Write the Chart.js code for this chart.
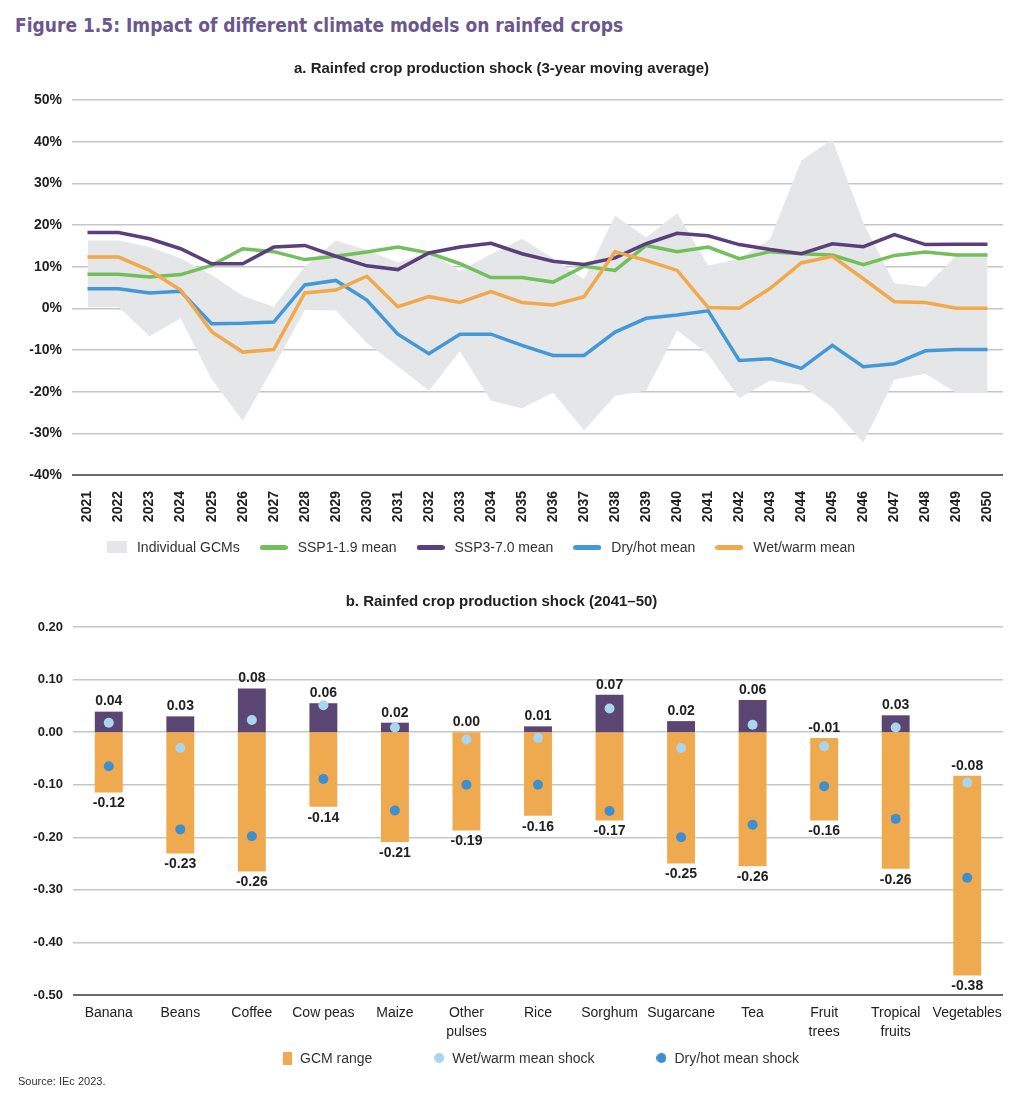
<!DOCTYPE html>
<html>
<head>
<meta charset="utf-8">
<script src="https://cdn.jsdelivr.net/npm/chart.js@4.4.0/dist/chart.umd.min.js"></script>
<style>
  body { margin: 0; background: #fff; width: 1024px; height: 1110px; position: relative; overflow: hidden; font-family: 'Liberation Sans', Arial, sans-serif; }
  #figTitle { position: absolute; left: 15px; top: 14px; font: bold 19px 'Liberation Sans Narrow', 'DejaVu Sans Condensed', sans-serif; color: #6b578f; }
  .wrap { position: absolute; left: 0; width: 1024px; }
  #topWrap { top: 50px; height: 515px; }
  #botWrap { top: 580px; height: 500px; }
  #source { position: absolute; left: 18px; top: 1075px; font-size: 11px; color: #333; }
</style>
</head>
<body>
<div id="figTitle">Figure 1.5: Impact of different climate models on rainfed crops</div>
<div class="wrap" id="topWrap"><canvas id="topChart"></canvas></div>
<div class="wrap" id="botWrap"><canvas id="botChart"></canvas></div>
<div id="source">Source: IEc 2023.</div>
<script>
// panel a: 3-year moving average, % shock
const years = ['2021', '2022', '2023', '2024', '2025', '2026', '2027', '2028', '2029', '2030',
  '2031', '2032', '2033', '2034', '2035', '2036', '2037', '2038', '2039', '2040',
  '2041', '2042', '2043', '2044', '2045', '2046', '2047', '2048', '2049', '2050'];
const gcmHigh = [16.3, 16.3, 14.7, 12.0, 8.0, 3.0, 0.4, 10.0, 16.3, 14.0,
  11.0, 13.5, 9.0, 13.0, 16.7, 12.0, 7.0, 22.2, 17.0, 22.8,
  10.3, 11.9, 16.7, 35.4, 40.6, 20.5, 6.0, 5.2, 12.7, 12.7];
const gcmLow = [0.3, 0.3, -6.7, -2.4, -17.0, -27.0, -14.0, -0.4, -0.5, -8.3,
  -13.9, -19.8, -10.3, -22.2, -24.0, -20.2, -29.3, -21.0, -19.8, -5.3,
  -11.0, -21.6, -17.3, -18.4, -23.8, -32.2, -17.1, -15.7, -20.3, -20.3];
const ssp119 = [8.2, 8.2, 7.5, 8.1, 10.3, 14.3, 13.6, 11.7, 12.5, 13.5,
  14.7, 13.3, 10.7, 7.4, 7.4, 6.3, 10.1, 9.1, 15.1, 13.6,
  14.7, 11.9, 13.6, 13.1, 12.8, 10.5, 12.7, 13.5, 12.8, 12.8];
const ssp370 = [18.2, 18.2, 16.7, 14.3, 10.7, 10.7, 14.7, 15.1, 12.5, 10.2,
  9.3, 13.3, 14.7, 15.6, 13.1, 11.3, 10.5, 12.1, 15.5, 18.0,
  17.4, 15.3, 14.1, 13.1, 15.5, 14.8, 17.7, 15.3, 15.4, 15.4];
const dryHot = [4.7, 4.7, 3.7, 4.1, -3.7, -3.6, -3.3, 5.6, 6.7, 2.0,
  -6.2, -10.9, -6.2, -6.2, -8.9, -11.3, -11.3, -5.7, -2.4, -1.6,
  -0.6, -12.5, -12.1, -14.4, -8.9, -14.0, -13.3, -10.2, -9.9, -9.9];
const wetWarm = [12.3, 12.3, 9.1, 4.4, -5.6, -10.5, -9.9, 3.7, 4.4, 7.7,
  0.4, 2.8, 1.4, 4.0, 1.4, 0.8, 2.8, 13.6, 11.5, 9.1,
  0.2, 0.0, 4.8, 10.9, 12.5, 7.1, 1.6, 1.4, 0.0, 0.0];

// panel b: 2041-50 shock by crop
const crops = [['Banana'], ['Beans'], ['Coffee'], ['Cow peas'], ['Maize'], ['Other', 'pulses'], ['Rice'],
  ['Sorghum'], ['Sugarcane'], ['Tea'], ['Fruit', 'trees'], ['Tropical', 'fruits'], ['Vegetables']];
const gcmMax = [0.039, 0.030, 0.083, 0.055, 0.018, 0.0, 0.011, 0.071, 0.021, 0.061, -0.011, 0.032, -0.083];
const gcmMin = [-0.115, -0.231, -0.265, -0.142, -0.209, -0.187, -0.159, -0.168, -0.250, -0.255, -0.168, -0.260, -0.463];
const maxLabels = ['0.04', '0.03', '0.08', '0.06', '0.02', '0.00', '0.01', '0.07', '0.02', '0.06', '-0.01', '0.03', '-0.08'];
const minLabels = ['-0.12', '-0.23', '-0.26', '-0.14', '-0.21', '-0.19', '-0.16', '-0.17', '-0.25', '-0.26', '-0.16', '-0.26', '-0.38'];
const wetShock = [0.018, -0.030, 0.023, 0.051, 0.009, -0.014, -0.011, 0.045, -0.030, 0.014, -0.027, 0.009, -0.096];
const dryShock = [-0.065, -0.185, -0.198, -0.089, -0.149, -0.100, -0.100, -0.150, -0.200, -0.176, -0.103, -0.165, -0.277];

const GREEN = '#72bf5c', PURPLE = '#5a3f7c', BLUE = '#4399d7', ORANGE = '#f2a94b', BAND = '#e5e6e7';
const BAR_PURPLE = '#5b4573', BAR_ORANGE = '#efa94f', WET = '#a9d5ef', DRY = '#3d8fcf';
const FONT = "'Liberation Sans', Arial, sans-serif";

Chart.defaults.font.family = FONT;
Chart.defaults.color = '#333';
Chart.defaults.animation = false;

// little legend markers
function marker(w, h, color, shape) {
  const c = document.createElement('canvas');
  c.width = w; c.height = h;
  const g = c.getContext('2d');
  g.fillStyle = color;
  g.beginPath();
  if (shape === 'line') g.roundRect(0, 0, w, h, h / 2);
  else if (shape === 'circle') g.arc(w / 2, h / 2, w / 2, 0, Math.PI * 2);
  else g.rect(0, 0, w, h);
  g.fill();
  return c;
}

// legend drawn by hand so the item spacing can match the figure
function makeKey(items, centerX, bottom, gap, textGap) {
  return {
    id: 'key',
    afterDraw(chart) {
      const ctx = chart.ctx;
      ctx.save();
      ctx.font = '14px ' + FONT;
      ctx.textBaseline = 'middle';
      ctx.fillStyle = '#333';
      const widths = items.map(it => it.m.width + textGap + ctx.measureText(it.text).width);
      const total = widths.reduce((a, b) => a + b, 0) + gap * (widths.length - 1);
      let x = centerX - total / 2;
      const y = chart.height - bottom;
      items.forEach((it, i) => {
        ctx.drawImage(it.m, x, Math.round(y - it.m.height / 2));
        ctx.fillText(it.text, x + it.m.width + textGap, y + 1);
        x += widths[i] + gap;
      });
      ctx.restore();
    }
  };
}

function gridColor(bottom) {
  return ctx => Math.abs(ctx.tick.value - bottom) < 1e-6 ? '#6a6a6a' : '#c6c6c6';
}
function gridWidth(bottom) {
  return ctx => Math.abs(ctx.tick.value - bottom) < 1e-6 ? 2 : 1.5;
}

const lineDs = (label, data, color) => ({
  label: label, data: data, borderColor: color, backgroundColor: color,
  borderWidth: 3.5, pointRadius: 0, tension: 0, fill: false
});

new Chart(document.getElementById('topChart'), {
  type: 'line',
  data: {
    labels: years,
    datasets: [
      lineDs('Wet/warm mean', wetWarm, ORANGE),
      lineDs('Dry/hot mean', dryHot, BLUE),
      lineDs('SSP3-7.0 mean', ssp370, PURPLE),
      lineDs('SSP1-1.9 mean', ssp119, GREEN),
      { label: 'Individual GCMs', data: gcmHigh, borderWidth: 0, pointRadius: 0, backgroundColor: BAND, fill: '+1', tension: 0 },
      { label: 'low', data: gcmLow, borderWidth: 0, pointRadius: 0, backgroundColor: BAND, fill: false, tension: 0 }
    ]
  },
  options: {
    responsive: true,
    maintainAspectRatio: false,
    layout: { padding: { right: 21, bottom: 38 } },
    plugins: {
      tooltip: { enabled: false },
      legend: { display: false },
      title: {
        display: true, text: 'a. Rainfed crop production shock (3-year moving average)',
        font: { size: 15, weight: 'bold' }, color: '#222', padding: { top: 10, bottom: 22 }
      }
    },
    scales: {
      x: {
        offset: true,
        grid: { display: false },
        border: { display: false },
        ticks: { minRotation: 90, maxRotation: 90, padding: 8, font: { size: 14, weight: 'bold' }, color: '#222', autoSkip: false },
        afterFit: s => { s.height = 52; }
      },
      y: {
        min: -40, max: 50,
        border: { display: false },
        grid: { color: gridColor(-40), lineWidth: gridWidth(-40), drawTicks: false },
        ticks: { stepSize: 10, padding: 10, font: { size: 14, weight: 'bold' }, color: '#222', callback: v => v + '%' },
        afterFit: s => { s.width = 72; }
      }
    }
  },
  plugins: [makeKey([
    { text: 'Individual GCMs', m: marker(20, 12, BAND, 'rect') },
    { text: 'SSP1-1.9 mean', m: marker(28, 5, GREEN, 'line') },
    { text: 'SSP3-7.0 mean', m: marker(28, 5, PURPLE, 'line') },
    { text: 'Dry/hot mean', m: marker(28, 5, BLUE, 'line') },
    { text: 'Wet/warm mean', m: marker(28, 5, ORANGE, 'line') }
  ], 481, 18, 20, 10)]
});

// value labels above / below the GCM range bars
const rangeLabels = {
  id: 'rangeLabels',
  afterDatasetsDraw(chart) {
    const { ctx, scales: { x, y } } = chart;
    ctx.save();
    ctx.font = 'bold 14px ' + FONT;
    ctx.fillStyle = '#222';
    ctx.textAlign = 'center';
    crops.forEach((c, i) => {
      const px = x.getPixelForValue(i);
      ctx.textBaseline = 'bottom';
      ctx.fillText(maxLabels[i], px, y.getPixelForValue(gcmMax[i]) - 3);
      ctx.textBaseline = 'top';
      ctx.fillText(minLabels[i], px, y.getPixelForValue(gcmMin[i]) + 4);
    });
    ctx.restore();
  }
};

const barOpts = { grouped: false, barPercentage: 0.39, categoryPercentage: 1, borderWidth: 0, order: 3 };

new Chart(document.getElementById('botChart'), {
  data: {
    labels: crops,
    datasets: [
      Object.assign({ type: 'bar', label: 'positive', data: gcmMax.map(v => v > 0 ? [0, v] : null), backgroundColor: BAR_PURPLE }, barOpts),
      Object.assign({ type: 'bar', label: 'GCM range', data: gcmMax.map((v, i) => [gcmMin[i], Math.min(0, v)]), backgroundColor: BAR_ORANGE }, barOpts),
      { type: 'line', label: 'Wet/warm mean shock', data: wetShock, showLine: false, pointRadius: 5, pointBorderWidth: 0, pointBackgroundColor: WET, order: 1 },
      { type: 'line', label: 'Dry/hot mean shock', data: dryShock, showLine: false, pointRadius: 5, pointBorderWidth: 0, pointBackgroundColor: DRY, order: 1 }
    ]
  },
  options: {
    responsive: true,
    maintainAspectRatio: false,
    layout: { padding: { right: 21, bottom: 33 } },
    plugins: {
      tooltip: { enabled: false },
      legend: { display: false },
      title: {
        display: true, text: 'b. Rainfed crop production shock (2041\u201350)',
        font: { size: 15, weight: 'bold' }, color: '#222', padding: { top: 13, bottom: 16 }
      }
    },
    scales: {
      x: {
        grid: { display: false },
        border: { display: false },
        ticks: { padding: 1, font: { size: 14, lineHeight: 1.35 }, color: '#222', autoSkip: false, maxRotation: 0 },
        afterFit: s => { s.height = 52; }
      },
      y: {
        min: -0.5, max: 0.2,
        border: { display: false },
        grid: { color: gridColor(-0.5), lineWidth: gridWidth(-0.5), drawTicks: false },
        ticks: { stepSize: 0.1, padding: 10, font: { size: 13, weight: 'bold' }, color: '#222',
          callback: v => Math.abs(v) < 1e-9 ? '0.00' : v.toFixed(2) },
        afterFit: s => { s.width = 73; }
      }
    }
  },
  plugins: [rangeLabels, makeKey([
    { text: 'GCM range', m: marker(9, 13, BAR_ORANGE, 'rect') },
    { text: 'Wet/warm mean shock', m: marker(10, 10, WET, 'circle') },
    { text: 'Dry/hot mean shock', m: marker(10, 10, DRY, 'circle') }
  ], 541, 22, 62, 8)]
});
</script>
</body>
</html>
